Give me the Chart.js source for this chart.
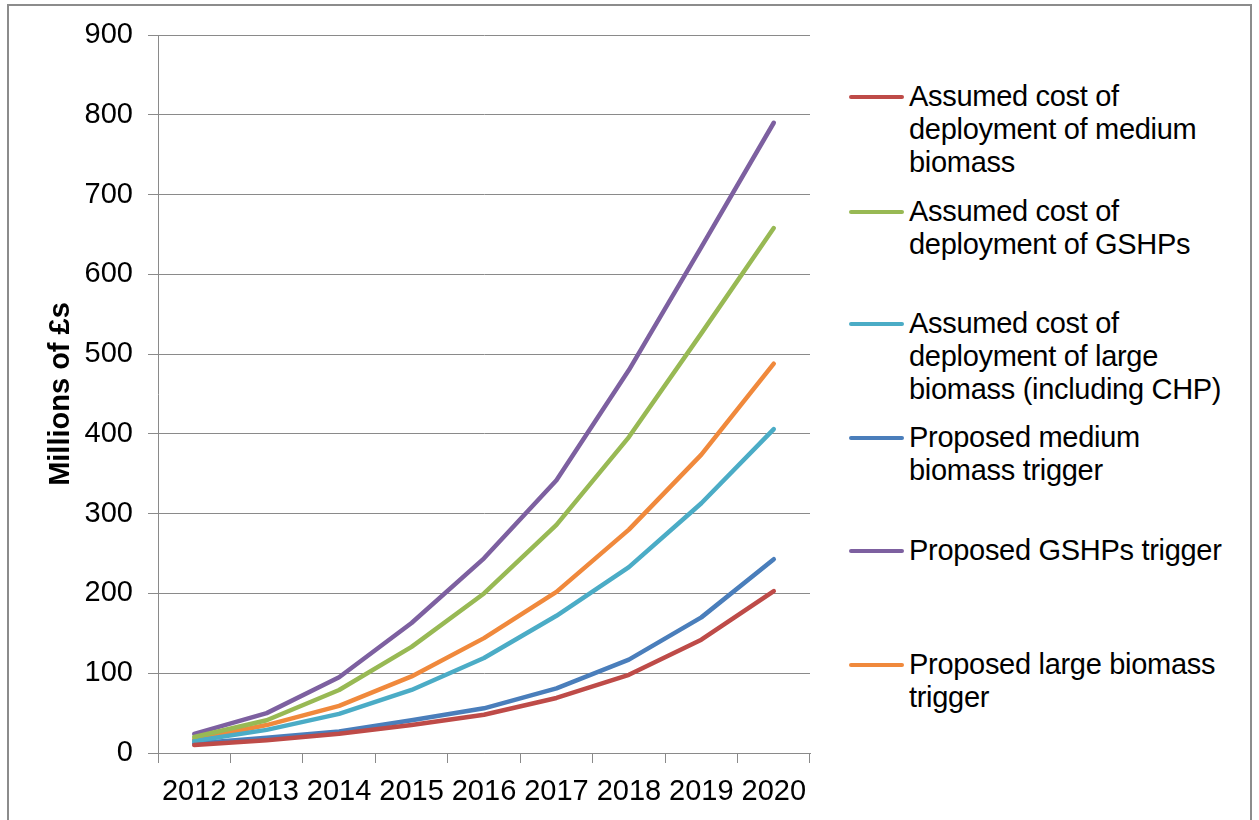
<!DOCTYPE html>
<html>
<head>
<meta charset="utf-8">
<script src="https://cdn.jsdelivr.net/npm/chart.js@4.4.1/dist/chart.umd.min.js"></script>
<style>
  html, body { margin: 0; padding: 0; background: #fff; }
  body { width: 1259px; height: 820px; position: relative; overflow: hidden; font-family: "Liberation Sans", Arial, sans-serif; }
  #frame { position: absolute; left: 7px; top: 4px; width: 1245px; height: 830px; border: 2px solid #8c8c8c; box-sizing: border-box; }
  #wrap { position: absolute; left: 0; top: 0; width: 830px; height: 820px; }
  #legend { position: absolute; left: 849px; top: 0; width: 400px; }
  .item { position: absolute; left: 0; display: flex; align-items: flex-start; }
  .swatch { width: 55px; height: 4px; border-radius: 2px; margin-top: 15px; margin-right: 5px; flex: none; }
  .txt { font-size: 29px; line-height: 33px; color: #000; white-space: nowrap; letter-spacing: -0.3px; }
</style>
</head>
<body>
<div id="frame"></div>
<div id="wrap"><canvas id="chart"></canvas></div>
<div id="legend"></div>
<script>
// categories and values (millions of £s)
const years = ['2012', '2013', '2014', '2015', '2016', '2017', '2018', '2019', '2020'];

const mediumBiomassCost = [10, 16, 24, 35, 48, 69, 98, 142, 203];
const gshpCost = [20, 41, 79, 133, 200, 286, 396, 526, 658];
const largeBiomassCost = [15, 29, 49, 79, 119, 172, 233, 313, 406];
const mediumBiomassTrigger = [12, 19, 27, 41, 56, 81, 117, 170, 243];
const gshpTrigger = [24, 50, 95, 163, 244, 342, 480, 634, 790];
const largeBiomassTrigger = [17, 35, 59, 96, 144, 202, 280, 374, 488];

const legendLines = [
  ['Assumed cost of', 'deployment of medium', 'biomass'],
  ['Assumed cost of', 'deployment of GSHPs'],
  ['Assumed cost of', 'deployment of large', 'biomass (including CHP)'],
  ['Proposed medium', 'biomass trigger'],
  ['Proposed GSHPs trigger'],
  ['Proposed large biomass', 'trigger'],
];

const yTicks = [0, 100, 200, 300, 400, 500, 600, 700, 800, 900];

const colors = ['#BE4B48', '#98B954', '#4BACC6', '#4A7EBB', '#7D60A0', '#F0893C'];
const series = [mediumBiomassCost, gshpCost, largeBiomassCost, mediumBiomassTrigger, gshpTrigger, largeBiomassTrigger];

const datasets = series.map((d, i) => ({
  label: legendLines[i].join(' '),
  data: d,
  borderColor: colors[i],
  backgroundColor: colors[i],
  borderWidth: 4.5,
  pointRadius: 0,
  tension: 0,
  fill: false,
  borderCapStyle: 'round',
  borderJoinStyle: 'round',
}));

const gridColor = '#8a8a8a';
const tickFont = { family: '"Liberation Sans", Arial', size: 29 };

new Chart(document.getElementById('chart'), {
  type: 'line',
  data: { labels: years, datasets: datasets },
  options: {
    responsive: true,
    maintainAspectRatio: false,
    animation: false,
    layout: { padding: { top: 35, right: 20, left: 0, bottom: 0 } },
    plugins: {
      legend: { display: false },
      tooltip: { enabled: false },
    },
    scales: {
      x: {
        offset: true,
        grid: { offset: true, drawOnChartArea: false, drawTicks: true, tickLength: 10, color: gridColor },
        border: { color: gridColor, width: 1 },
        ticks: { color: '#000', font: tickFont, padding: 12, maxRotation: 0, autoSkip: false },
        afterFit: (s) => { s.height = 67; },
      },
      y: {
        min: 0,
        max: 900,
        afterBuildTicks: (s) => { s.ticks = yTicks.map(v => ({ value: v })); },
        grid: { color: gridColor, tickLength: 10, lineWidth: 1 },
        border: { color: gridColor, width: 1 },
        ticks: { color: '#000', font: tickFont, padding: 15 },
        title: {
          display: true,
          text: 'Millions of £s',
          color: '#000',
          font: { family: '"Liberation Sans Narrow", "Liberation Sans", Arial', size: 29, weight: 'bold' },
          padding: { top: 44, bottom: 0 },
        },
        afterFit: (s) => { s.width = 158; },
      },
    },
  },
});

// legend built from the same labels and colours
const legendTops = [80, 195, 307, 421, 534, 648];
const legend = document.getElementById('legend');
legendLines.forEach((lines, i) => {
  const item = document.createElement('div');
  item.className = 'item';
  item.style.top = legendTops[i] + 'px';
  const sw = document.createElement('div');
  sw.className = 'swatch';
  sw.style.background = colors[i];
  const txt = document.createElement('div');
  txt.className = 'txt';
  txt.innerHTML = lines.join('<br>');
  item.appendChild(sw);
  item.appendChild(txt);
  legend.appendChild(item);
});
</script>
</body>
</html>
